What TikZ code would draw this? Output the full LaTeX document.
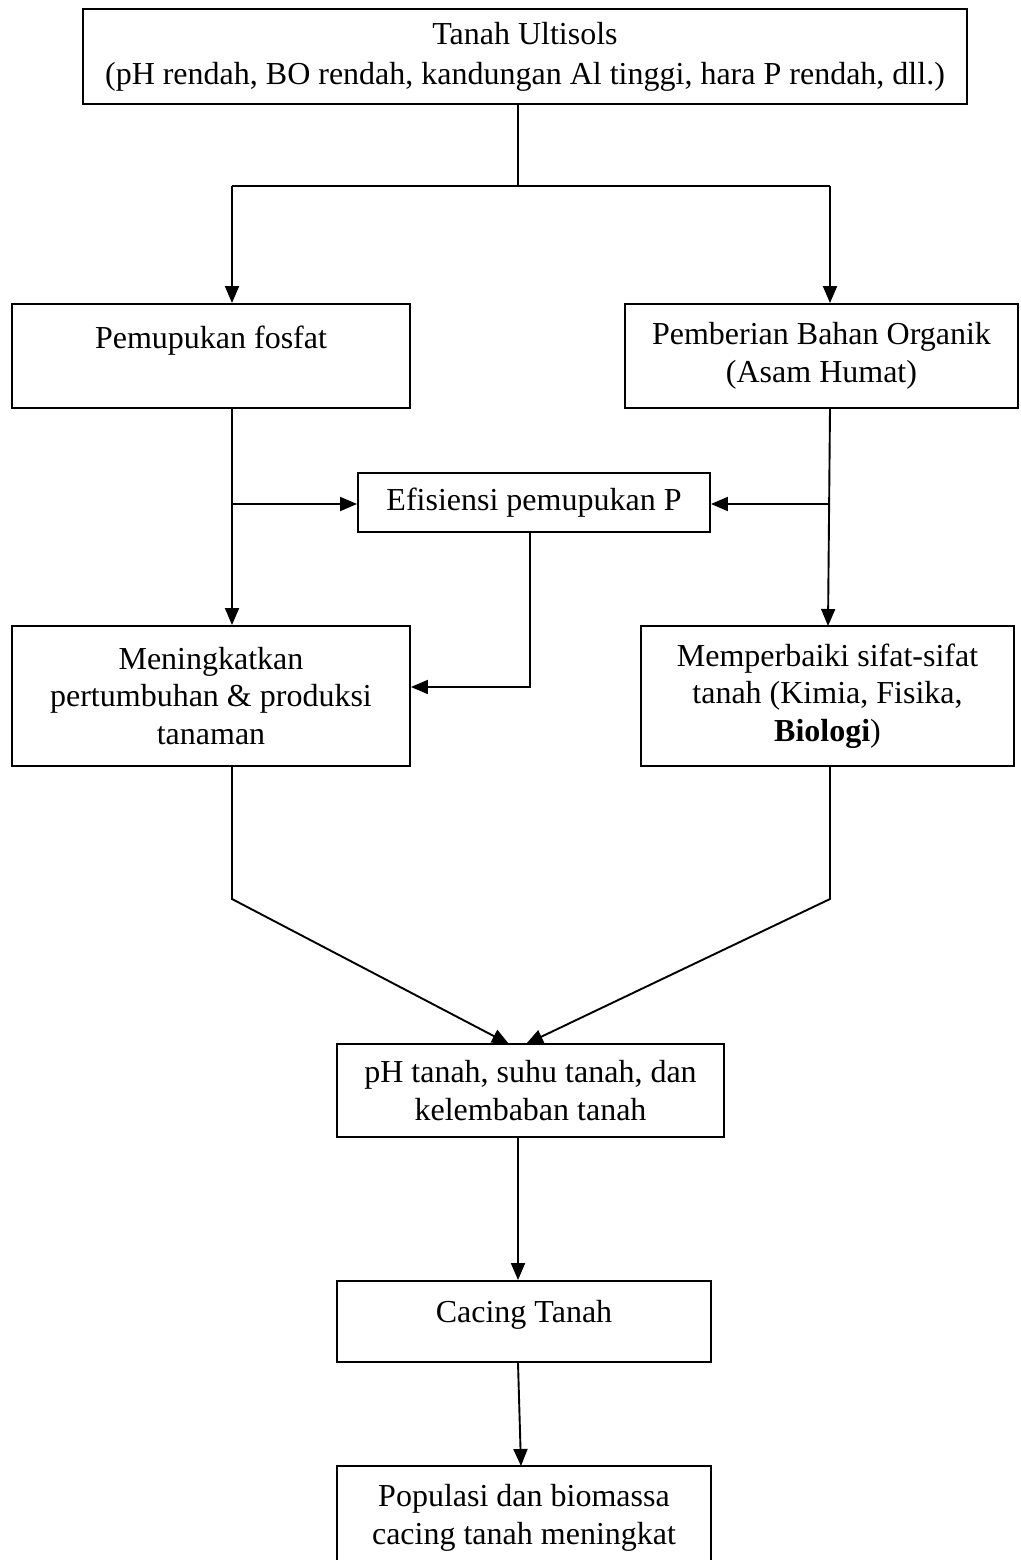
\documentclass[tikz,border=0pt]{standalone}
\usepackage{fontspec}
\setmainfont{Liberation Serif}
\usepackage{tikz}
\usetikzlibrary{arrows.meta,calc,positioning}

\begin{document}
\begin{tikzpicture}[auto,>={Triangle[length=17pt,width=14pt]},x=1pt,y=-1pt,line width=1.9pt]
	\tikzstyle{block} = [draw, rectangle, align=center, inner sep=0pt, font=\fontsize{32}{37.5}\selectfont]
	\path[use as bounding box, fill=white] (0,0) rectangle (1020,1560);
	
	\node [block, minimum width=884pt, minimum height=95pt, font=\fontsize{32}{40}\selectfont] (ultisol) at (525,56.5) {Tanah Ultisols\\(pH rendah, BO rendah, kandungan Al tinggi, hara P rendah, dll.)};
	\node [block, minimum width=398pt, minimum height=104pt, text height=22pt, text depth=38pt] (pupuk) at (211,356) {Pemupukan fosfat};
	\node [block, minimum width=393pt, minimum height=104pt] (organik) at (821.5,356) {Pemberian Bahan Organik\\(Asam Humat)};
	\node [block, minimum width=352pt, minimum height=59pt] (efisiensi) at (534,502.5) {Efisiensi pemupukan P};
	\node [block, minimum width=398pt, minimum height=140pt] (tumbuh) at (211,696) {Meningkatkan\\pertumbuhan \& produksi\\tanaman};
	\node [block, minimum width=373pt, minimum height=140pt] (sifat) at (827.5,696) {Memperbaiki sifat-sifat\\tanah (Kimia, Fisika,\\\textbf{Biologi})};
	\node [block, minimum width=387pt, minimum height=93pt] (kondisi) at (530.5,1090.5) {pH tanah, suhu tanah, dan\\kelembaban tanah};
	\node [block, minimum width=374pt, minimum height=81pt, text height=22pt, text depth=21pt] (cacing) at (524,1321.5) {Cacing Tanah};
	\node [block, minimum width=374pt, minimum height=104pt] (populasi) at (524,1518) {Populasi dan biomassa\\cacing tanah meningkat};
	
	\coordinate (c0) at (518,186);
	\coordinate (c1) at (232,186);
	\coordinate (c2) at (830,186);
	\coordinate (c3) at (232,504);
	\coordinate (c4) at (830,504);
	\coordinate (c5) at (530,687);
	\coordinate (c6) at (232,899);
	\coordinate (c7) at (830,899);
	\coordinate (c8) at (509,1044);
	\coordinate (c9) at (526,1044);
	\coordinate (c10) at (521,1466);
	
	\draw [-] (ultisol.south -| c0) -- (c0);
	\draw [-] (c1) -- (c2);
	\draw [->] (c1) -- (c1 |- pupuk.north);
	\draw [->] (c2) -- (c2 |- organik.north);
	\draw [->] (c1 |- pupuk.south) -- (c1 |- tumbuh.north);
	\draw [->] (c2 |- organik.south) -- (828,626);
	\draw [->] (c3) -- (c3 -| efisiensi.west);
	\draw [->] (c4) -- (c4 -| efisiensi.east);
	\draw [->] (c5 |- efisiensi.south) -- (c5) -- (c5 -| tumbuh.east);
	\draw [->] (c1 |- tumbuh.south) -- (c6) -- (c8);
	\draw [->] (c2 |- sifat.south) -- (c7) -- (c9);
	\draw [->] (c0 |- kondisi.south) -- (c0 |- cacing.north);
	\draw [->] (c0 |- cacing.south) -- (c10);
\end{tikzpicture}
\end{document}
